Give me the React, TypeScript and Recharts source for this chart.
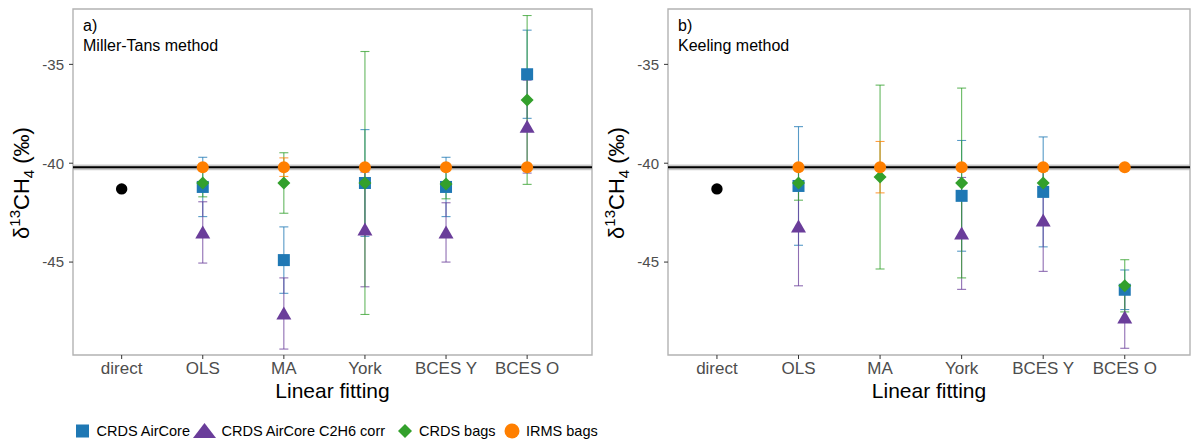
import React from "react"
import {
  ScatterChart,
  Scatter,
  XAxis,
  YAxis,
  ErrorBar,
  ReferenceArea,
  ReferenceLine,
} from "recharts"

// Linear fitting methods on the x axis
const categories = ["direct", "OLS", "MA", "York", "BCES Y", "BCES O"]
const yTicks = [-45, -40, -35]

// direct measurement (same in both panels)
const direct = [-41.3]

// a) Miller-Tans method
const airCoreMT = [null, -41.2, -44.9, -41.0, -41.2, -35.5]
const airCoreMTErr = [null, 1.5, 1.68, 2.7, 1.5, 2.23]
const c2h6MT = [null, -43.5, -47.6, -43.35, -43.5, -38.15]
const c2h6MTErr = [null, 1.55, 1.8, 2.9, 1.5, 2.35]
const bagsMT = [null, -41.0, -41.0, -41.0, -41.05, -36.8]
const bagsMTErr = [null, 0.7, 1.53, 6.65, 0.75, 4.27]
const irmsMT = [null, -40.2, -40.2, -40.2, -40.2, -40.2]
const irmsMTErr = [null, 0.1, 0.47, 0.1, 0.1, 0.1]

// b) Keeling method
const airCoreK = [null, -41.15, null, -41.65, -41.45, -46.4]
const airCoreKErr = [null, 3.0, null, 2.8, 2.78, 1.0]
const c2h6K = [null, -43.2, null, -43.55, -42.9, -47.8]
const c2h6KErr = [null, 3.0, null, 2.83, 2.57, 1.56]
const bagsK = [null, -41.0, -40.7, -41.0, -41.0, -46.2]
const bagsKErr = [null, 0.87, 4.65, 4.8, 0.6, 1.32]
const irmsK = [null, -40.2, -40.2, -40.2, -40.2, -40.2]
const irmsKErr = [null, 0.1, 1.3, 0.1, 0.1, 0.1]

// reference line (mean of direct bags) and its band
const refValue = -40.21
const refLow = -40.35
const refHigh = -40.07

const BLUE = "#1f78b4"
const PURPLE = "#6a3d9a"
const GREEN = "#33a02c"
const ORANGE = "#ff7f00"
const FONT = "'Liberation Sans', Arial, sans-serif"

type Pt = { x: number; y: number; err: number }

function toPoints(vals: (number | null)[], errs: (number | null)[]): Pt[] {
  const out: Pt[] = []
  vals.forEach((v, i) => {
    if (v !== null) out.push({ x: i + 1, y: v, err: errs[i] ?? 0 })
  })
  return out
}

const square = (color: string) => (p: any) => (
  <rect x={p.cx - 6} y={p.cy - 6} width={12} height={12} fill={color} />
)
const triangle = (color: string) => (p: any) => (
  <polygon
    points={`${p.cx - 7.5},${p.cy + 6} ${p.cx + 7.5},${p.cy + 6} ${p.cx},${p.cy - 7}`}
    fill={color}
  />
)
const diamond = (color: string) => (p: any) => (
  <polygon
    points={`${p.cx},${p.cy - 6.5} ${p.cx + 6.5},${p.cy} ${p.cx},${p.cy + 6.5} ${p.cx - 6.5},${p.cy}`}
    fill={color}
  />
)
const circle = (color: string, r = 6) => (p: any) => (
  <circle cx={p.cx} cy={p.cy} r={r} fill={color} />
)
const nothing = () => <g />

type SeriesDef = { name: string; data: Pt[]; color: string; shape: (p: any) => React.ReactElement }

function Panel({ series, left, right }: { series: SeriesDef[]; left: number; right: number }) {
  const directPts = toPoints(direct, [0])
  return (
    <ScatterChart width={600} height={400} margin={{ top: 9, right, bottom: 0, left }}>
      <XAxis
        type="number"
        dataKey="x"
        domain={[0.4, 6.8]}
        ticks={[1, 2, 3, 4, 5, 6]}
        tickFormatter={(v: number) => categories[v - 1]}
        allowDataOverflow
        axisLine={false}
        tickSize={4}
        tickMargin={3}
        height={45}
        tick={{ fontSize: 17, fill: "#4d4d4d", fontFamily: FONT }}
        tickLine={{ stroke: "#333" }}
      />
      <YAxis
        type="number"
        dataKey="y"
        domain={[-49.7, -32.2]}
        ticks={yTicks}
        allowDataOverflow
        axisLine={false}
        tickSize={4}
        tickMargin={5}
        width={45}
        tick={{ fontSize: 15, fill: "#4d4d4d", fontFamily: FONT }}
        tickLine={{ stroke: "#333" }}
      />
      <ReferenceArea
        x1={0.4}
        x2={6.8}
        y1={refLow}
        y2={refHigh}
        fill="#bdbdbd"
        fillOpacity={0.8}
        stroke="none"
      />
      <ReferenceLine y={refValue} stroke="#000" strokeWidth={2} />
      {series.map((s) => (
        <Scatter key={s.name + "-err"} data={s.data} shape={nothing} isAnimationActive={false}>
          <ErrorBar
            dataKey="err"
            direction="y"
            width={4.5}
            stroke={s.color}
            strokeOpacity={0.75}
            strokeWidth={1.1}
            isAnimationActive={false}
          />
        </Scatter>
      ))}
      <Scatter data={directPts} shape={circle("#000", 5.7)} isAnimationActive={false} />
      {series.map((s) => (
        <Scatter key={s.name} data={s.data} shape={s.shape} isAnimationActive={false} />
      ))}
      <ReferenceArea
        x1={0.4}
        x2={6.8}
        y1={-49.7}
        y2={-32.2}
        fill="none"
        stroke="#b3b3b3"
        strokeWidth={1.4}
      />
    </ScatterChart>
  )
}

const seriesMT: SeriesDef[] = [
  { name: "CRDS AirCore", data: toPoints(airCoreMT, airCoreMTErr), color: BLUE, shape: square(BLUE) },
  { name: "CRDS AirCore C2H6 corr", data: toPoints(c2h6MT, c2h6MTErr), color: PURPLE, shape: triangle(PURPLE) },
  { name: "CRDS bags", data: toPoints(bagsMT, bagsMTErr), color: GREEN, shape: diamond(GREEN) },
  { name: "IRMS bags", data: toPoints(irmsMT, irmsMTErr), color: ORANGE, shape: circle(ORANGE) },
]

const seriesK: SeriesDef[] = [
  { name: "CRDS AirCore", data: toPoints(airCoreK, airCoreKErr), color: BLUE, shape: square(BLUE) },
  { name: "CRDS AirCore C2H6 corr", data: toPoints(c2h6K, c2h6KErr), color: PURPLE, shape: triangle(PURPLE) },
  { name: "CRDS bags", data: toPoints(bagsK, bagsKErr), color: GREEN, shape: diamond(GREEN) },
  { name: "IRMS bags", data: toPoints(irmsK, irmsKErr), color: ORANGE, shape: circle(ORANGE) },
]

function YTitle({ x }: { x: number }) {
  return (
    <text
      transform={`rotate(-90, ${x}, 183)`}
      x={x}
      y={183}
      textAnchor="middle"
      fontSize={22}
      fill="#000"
    >
      δ
      <tspan fontSize={15} dy={-9}>13</tspan>
      <tspan dy={9}>CH</tspan>
      <tspan fontSize={15} dy={5}>4</tspan>
      <tspan dy={-5}> (‰)</tspan>
    </text>
  )
}

export default function App() {
  return (
    <div
      style={{
        position: "absolute",
        left: 0,
        top: 0,
        width: 1200,
        height: 447,
        background: "#fff",
        fontFamily: FONT,
        overflow: "hidden",
      }}
    >
      <div style={{ position: "absolute", left: 0, top: 0 }}>
        <Panel series={seriesMT} left={28} right={8} />
      </div>
      <div style={{ position: "absolute", left: 600, top: 0 }}>
        <Panel series={seriesK} left={23} right={10} />
      </div>
      <svg
        width={1200}
        height={447}
        style={{ position: "absolute", left: 0, top: 0, pointerEvents: "none" }}
        fontFamily={FONT}
      >
        <text x={83} y={31} fontSize={16}>a)</text>
        <text x={83} y={50.5} fontSize={16}>Miller-Tans method</text>
        <text x={678} y={31} fontSize={16}>b)</text>
        <text x={678} y={50.5} fontSize={16}>Keeling method</text>

        <YTitle x={29} />
        <YTitle x={624} />

        <text x={332.5} y={398} fontSize={21} textAnchor="middle">Linear fitting</text>
        <text x={929} y={398} fontSize={21} textAnchor="middle">Linear fitting</text>

        {/* legend */}
        <rect x={76} y={424.5} width={13} height={13} fill={BLUE} />
        <text x={96.5} y={436} fontSize={14.5} fill="#000">CRDS AirCore</text>
        <polygon points="193,438 216,438 204.5,423" fill={PURPLE} />
        <text x={221.5} y={436} fontSize={14.5} fill="#000">CRDS AirCore C2H6 corr</text>
        <polygon points="405,424 412,431 405,438 398,431" fill={GREEN} />
        <text x={419} y={436} fontSize={14.5} fill="#000">CRDS bags</text>
        <circle cx={512} cy={431} r={7.5} fill={ORANGE} />
        <text x={526} y={436} fontSize={14.5} fill="#000">IRMS bags</text>
      </svg>
    </div>
  )
}
